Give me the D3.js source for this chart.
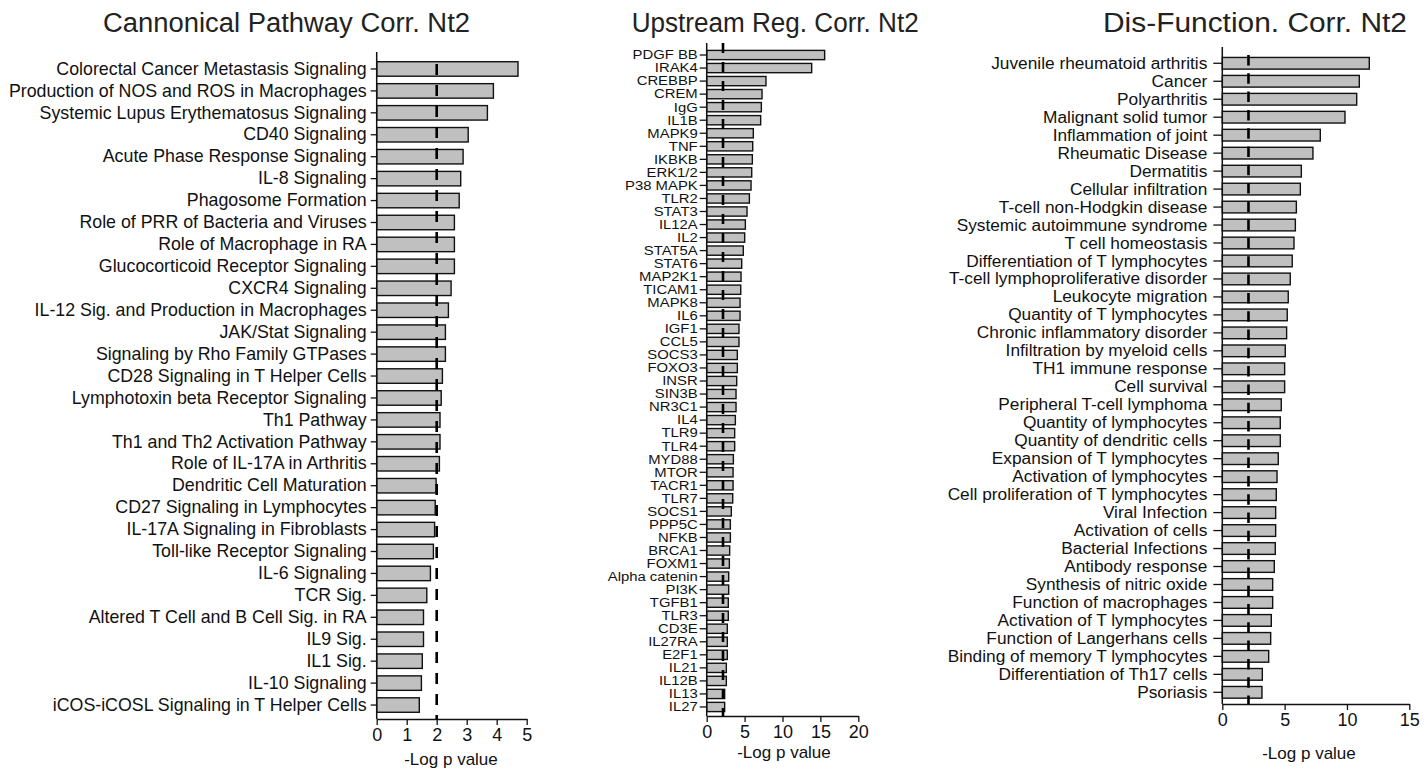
<!DOCTYPE html>
<html>
<head>
<meta charset="utf-8">
<script src="https://cdn.jsdelivr.net/npm/d3@7"></script>
<style>
  body { margin: 0; background: #fff; }
  text { font-family: "Liberation Sans", Arial, Helvetica, sans-serif; fill: #111; }
</style>
</head>
<body>
<svg id="chart" width="1428" height="769"></svg>
<script>
// ---- Canonical pathways ----
const pathwayNames = [
  "Colorectal Cancer Metastasis Signaling", "Production of NOS and ROS in Macrophages",
  "Systemic Lupus Erythematosus Signaling", "CD40 Signaling", "Acute Phase Response Signaling",
  "IL-8 Signaling", "Phagosome Formation", "Role of PRR of Bacteria and Viruses",
  "Role of Macrophage in RA", "Glucocorticoid Receptor Signaling", "CXCR4 Signaling",
  "IL-12 Sig. and Production in Macrophages", "JAK/Stat Signaling", "Signaling by Rho Family GTPases",
  "CD28 Signaling in T Helper Cells", "Lymphotoxin beta Receptor Signaling", "Th1 Pathway",
  "Th1 and Th2 Activation Pathway", "Role of IL-17A in Arthritis", "Dendritic Cell Maturation",
  "CD27 Signaling in Lymphocytes", "IL-17A Signaling in Fibroblasts", "Toll-like Receptor Signaling",
  "IL-6 Signaling", "TCR Sig.", "Altered T Cell and B Cell Sig. in RA", "IL9 Sig.", "IL1 Sig.",
  "IL-10 Signaling", "iCOS-iCOSL Signaling in T Helper Cells"
];
const pathwayValues = [
  4.71, 3.89, 3.69, 3.05, 2.88, 2.80, 2.75, 2.59, 2.59, 2.59, 2.48, 2.39, 2.29, 2.29, 2.19,
  2.15, 2.11, 2.11, 2.09, 1.98, 1.95, 1.93, 1.89, 1.79, 1.67, 1.56, 1.56, 1.52, 1.49, 1.42
];
const pathwayTicks = [0, 1, 2, 3, 4, 5];

// ---- Upstream regulators ----
const regulatorNames = [
  "PDGF BB", "IRAK4", "CREBBP", "CREM", "IgG", "IL1B", "MAPK9", "TNF", "IKBKB", "ERK1/2",
  "P38 MAPK", "TLR2", "STAT3", "IL12A", "IL2", "STAT5A", "STAT6", "MAP2K1", "TICAM1", "MAPK8",
  "IL6", "IGF1", "CCL5", "SOCS3", "FOXO3", "INSR", "SIN3B", "NR3C1", "IL4", "TLR9", "TLR4",
  "MYD88", "MTOR", "TACR1", "TLR7", "SOCS1", "PPP5C", "NFKB", "BRCA1", "FOXM1", "Alpha catenin",
  "PI3K", "TGFB1", "TLR3", "CD3E", "IL27RA", "E2F1", "IL21", "IL12B", "IL13", "IL27"
];
const regulatorValues = [
  15.56, 13.85, 7.82, 7.30, 7.21, 7.12, 6.15, 6.07, 6.02, 5.94, 5.85, 5.63, 5.32, 5.10, 5.01,
  4.83, 4.62, 4.53, 4.49, 4.40, 4.40, 4.26, 4.26, 4.04, 4.04, 3.96, 3.87, 3.87, 3.78, 3.69,
  3.69, 3.52, 3.48, 3.48, 3.43, 3.25, 3.12, 3.12, 3.03, 2.99, 2.90, 2.90, 2.85, 2.85, 2.72,
  2.72, 2.72, 2.59, 2.59, 2.37, 2.37
];
const regulatorTicks = [0, 5, 10, 15, 20];

// ---- Diseases and functions ----
const functionNames = [
  "Juvenile rheumatoid arthritis", "Cancer", "Polyarthritis", "Malignant solid tumor",
  "Inflammation of joint", "Rheumatic Disease", "Dermatitis", "Cellular infiltration",
  "T-cell non-Hodgkin disease", "Systemic autoimmune syndrome", "T cell homeostasis",
  "Differentiation of T lymphocytes", "T-cell lymphoproliferative disorder", "Leukocyte migration",
  "Quantity of T lymphocytes", "Chronic inflammatory disorder", "Infiltration by myeloid cells",
  "TH1 immune response", "Cell survival", "Peripheral T-cell lymphoma", "Quantity of lymphocytes",
  "Quantity of dendritic cells", "Expansion of T lymphocytes", "Activation of lymphocytes",
  "Cell proliferation of T lymphocytes", "Viral Infection", "Activation of cells",
  "Bacterial Infections", "Antibody response", "Synthesis of nitric oxide",
  "Function of macrophages", "Activation of T lymphocytes", "Function of Langerhans cells",
  "Binding of memory T lymphocytes", "Differentiation of Th17 cells", "Psoriasis"
];
const functionValues = [
  11.79, 10.99, 10.78, 9.84, 7.86, 7.27, 6.34, 6.26, 5.94, 5.86, 5.75, 5.61, 5.45, 5.29,
  5.21, 5.16, 5.05, 5.00, 5.00, 4.73, 4.65, 4.65, 4.49, 4.39, 4.33, 4.28, 4.28, 4.25, 4.17,
  4.04, 4.04, 3.93, 3.88, 3.72, 3.21, 3.18
];
const functionTicks = [0, 5, 10, 15];

const titles = ["Cannonical Pathway Corr. Nt2", "Upstream Reg. Corr. Nt2", "Dis-Function. Corr. Nt2"];
const thresholds = [2.0, 2.15, 2.1];
const axisLabel = "-Log p value";

// panel geometry
const panels = [
  { names: pathwayNames, values: pathwayValues, ticks: pathwayTicks, title: titles[0], thr: thresholds[0],
    x0: 376.7, x1: 526.7, axisTop: 52, axisBottom: 719, bandTop: 58, bandBottom: 716, pad: 0.34,
    labelSize: 17.8, labelStretch: 1, tickLen: 6, tickPad: 4, titleX: 103, titleW: 367,
    axisTitleX: 451, axisTitleY: 765, dash: "11,10", dashStart: 64 },
  { names: regulatorNames, values: regulatorValues, ticks: regulatorTicks, title: titles[1], thr: thresholds[1],
    x0: 706.7, x1: 858.3, axisTop: 43, axisBottom: 716, bandTop: 48.5, bandBottom: 713.5, pad: 0.29,
    labelSize: 13.5, labelStretch: 1.1, tickLen: 7, tickPad: 2, titleX: 631.7, titleW: 287,
    axisTitleX: 784, axisTitleY: 758, dash: "10,9", dashStart: 43 },
  { names: functionNames, values: functionValues, ticks: functionTicks, title: titles[2], thr: thresholds[2],
    x0: 1222.3, x1: 1409.3, axisTop: 47, axisBottom: 704, bandTop: 54.3, bandBottom: 701.3, pad: 0.35,
    labelSize: 17.3, labelStretch: 1, tickLen: 9, tickPad: 6, titleX: 1103, titleW: 304,
    axisTitleX: 1309, axisTitleY: 759, dash: "10.5,7.8", dashStart: 55 }
];

const svg = d3.select("#chart");

panels.forEach(p => {
  const g = svg.append("g");
  const x = d3.scaleLinear().domain([p.ticks[0], p.ticks[p.ticks.length - 1]]).range([p.x0, p.x1]);
  const y = d3.scaleBand().domain(p.names).range([p.bandTop, p.bandBottom])
    .paddingInner(p.pad).paddingOuter(p.pad / 2);

  // title
  g.append("text")
    .attr("x", p.titleX).attr("y", 32)
    .attr("font-size", 27)
    .attr("textLength", p.titleW)
    .attr("lengthAdjust", "spacingAndGlyphs")
    .style("fill", "#222")
    .text(p.title);

  // bars
  g.selectAll("rect.bar").data(p.names).join("rect")
    .attr("class", "bar")
    .attr("x", x(0))
    .attr("y", d => y(d))
    .attr("width", (d, i) => x(p.values[i]) - x(0))
    .attr("height", y.bandwidth())
    .attr("fill", "#c0c0c0")
    .attr("stroke", "#111")
    .attr("stroke-width", 1.4);

  // category axis
  const yAxis = d3.axisLeft(y).tickSize(p.tickLen).tickSizeOuter(0).tickPadding(p.tickPad);
  const ya = g.append("g").attr("transform", `translate(${x(0)},0)`).call(yAxis);
  ya.select(".domain").remove();
  ya.selectAll(".tick line").attr("stroke", "#111").attr("stroke-width", 1.3);
  ya.selectAll(".tick text")
    .attr("font-size", p.labelSize)
    .attr("font-family", null)
    .attr("transform", p.labelStretch !== 1 ? `scale(${p.labelStretch},1)` : null)
    .attr("x", -(p.tickLen + p.tickPad) / p.labelStretch)
    .style("fill", "#111");
  g.append("line")
    .attr("x1", x(0)).attr("x2", x(0))
    .attr("y1", p.axisTop).attr("y2", p.axisBottom)
    .attr("stroke", "#111").attr("stroke-width", 1.5);

  // value axis
  const xAxis = d3.axisBottom(x).tickValues(p.ticks).tickFormat(d3.format("d"))
    .tickSize(6).tickSizeOuter(0).tickPadding(3);
  const xa = g.append("g").attr("transform", `translate(0,${p.axisBottom})`).call(xAxis);
  xa.select(".domain").attr("stroke", "#111").attr("stroke-width", 1.5);
  xa.selectAll(".tick line").attr("stroke", "#111").attr("stroke-width", 1.3);
  xa.selectAll(".tick text").attr("font-size", 18).attr("font-family", null).style("fill", "#111");

  g.append("text")
    .attr("x", p.axisTitleX).attr("y", p.axisTitleY)
    .attr("text-anchor", "middle")
    .attr("font-size", 17)
    .text(axisLabel);

  // significance threshold
  g.append("line")
    .attr("x1", x(p.thr)).attr("x2", x(p.thr))
    .attr("y1", p.dashStart).attr("y2", p.axisBottom)
    .attr("stroke", "#000").attr("stroke-width", 2.6)
    .attr("stroke-dasharray", p.dash);
});
</script>
</body>
</html>
